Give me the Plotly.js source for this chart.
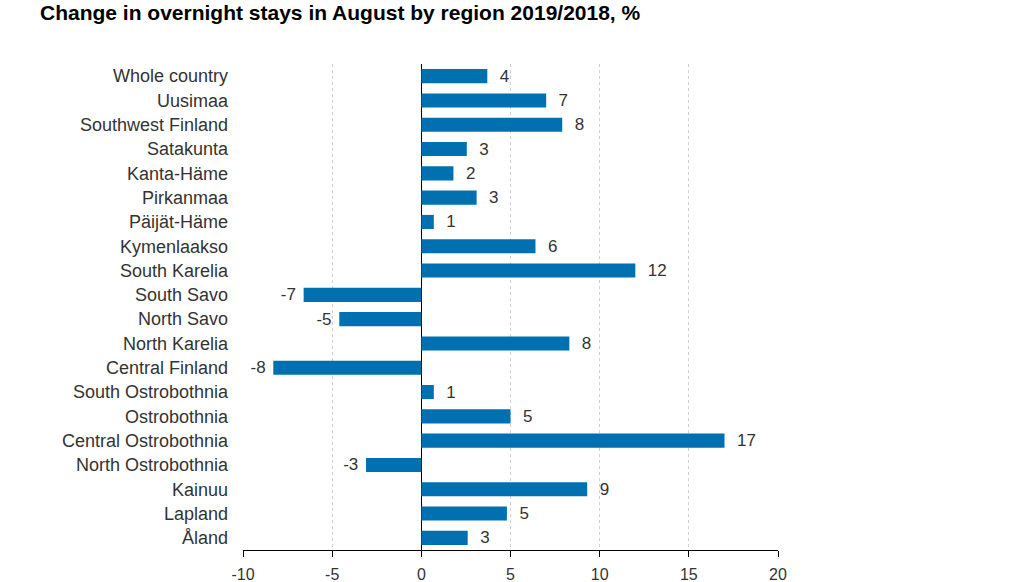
<!DOCTYPE html>
<html>
<head>
<meta charset="utf-8">
<script src="https://cdn.plot.ly/plotly-3.0.1.min.js"></script>
<style>
  html, body { margin:0; padding:0; background:#fff; }
  #chart { width:1035px; height:582px; }
</style>
</head>
<body>
<div id="chart"></div>
<script>
// ---- Data ----
const regions = [
  'Whole country', 'Uusimaa', 'Southwest Finland', 'Satakunta', 'Kanta-Häme',
  'Pirkanmaa', 'Päijät-Häme', 'Kymenlaakso', 'South Karelia', 'South Savo',
  'North Savo', 'North Karelia', 'Central Finland', 'South Ostrobothnia',
  'Ostrobothnia', 'Central Ostrobothnia', 'North Ostrobothnia', 'Kainuu',
  'Lapland', 'Åland'
];
const changePct = [
  3.7, 7.0, 7.9, 2.55, 1.8,
  3.1, 0.7, 6.4, 12.0, -6.6,
  -4.6, 8.3, -8.3, 0.7,
  5.0, 17.0, -3.1, 9.3,
  4.8, 2.6
];
const xTicks = [-10, -5, 0, 5, 10, 15, 20];

// rounded value labels, padded away from the bar end
const pad = '\u00a0\u00a0';
const labels = changePct.map(v => {
  const r = String(Math.round(v));
  return v >= 0 ? pad + r : r + '\u00a0';
});

const FONT = 'Liberation Sans, Arial, sans-serif';
const BLUE = '#0070b0';

Plotly.newPlot('chart', [{
  type: 'bar',
  orientation: 'h',
  y: regions,
  x: changePct,
  marker: { color: BLUE },
  text: labels,
  textposition: 'outside',
  constraintext: 'none',
  cliponaxis: false,
  textfont: { family: FONT, size: 17, color: '#333' },
  hoverinfo: 'y+x'
}], {
  width: 1035,
  height: 582,
  paper_bgcolor: '#fff',
  plot_bgcolor: '#fff',
  margin: { l: 243, r: 257, t: 64, b: 32 },
  bargap: 0.42,
  showlegend: false,
  font: { family: FONT, size: 16, color: '#333' },
  title: {
    text: '<b>Change in overnight stays in August by region 2019/2018, %</b>',
    font: { family: FONT, size: 21, color: '#000' },
    xref: 'container', x: 40 / 1035, xanchor: 'left',
    yref: 'container', y: 1 - 13 / 582, yanchor: 'middle'
  },
  xaxis: {
    range: [-10, 20],
    tickvals: xTicks,
    ticktext: xTicks.map(String),
    showgrid: true,
    gridcolor: '#cfcfcf',
    griddash: 'dot',
    gridwidth: 1,
    zeroline: true,
    zerolinecolor: '#000',
    zerolinewidth: 1.5,
    showline: true,
    linecolor: '#000',
    linewidth: 1,
    ticks: 'outside',
    ticklen: 6,
    tickcolor: '#000',
    ticklabelstandoff: 4,
    tickfont: { family: FONT, size: 16, color: '#333' },
    fixedrange: true
  },
  yaxis: {
    autorange: 'reversed',
    showgrid: false,
    zeroline: false,
    showline: false,
    ticks: '',
    ticklabelstandoff: 14,
    tickfont: { family: FONT, size: 18, color: '#333' },
    fixedrange: true
  }
}, { displayModeBar: false, staticPlot: true });
</script>
</body>
</html>
